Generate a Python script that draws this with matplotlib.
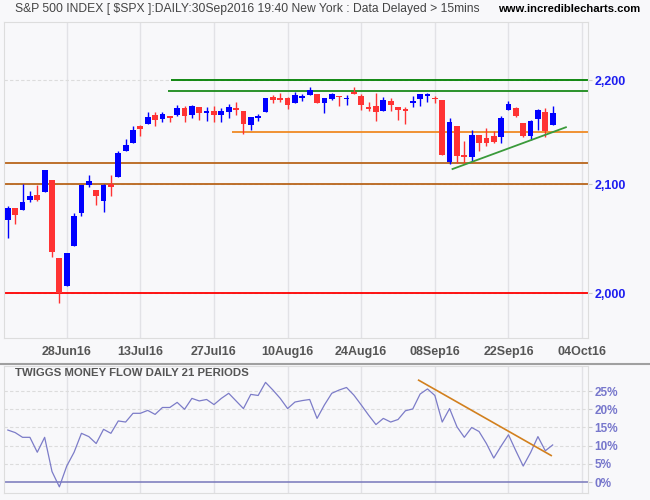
import matplotlib
matplotlib.use("Agg")
import matplotlib.pyplot as plt
from matplotlib.lines import Line2D
from matplotlib.ticker import NullLocator

# daily S&P 500 candles, 16 Jun 2016 .. 30 Sep 2016
opens = [2066.4, 2078.0, 2075.6, 2085.2, 2089.8, 2092.8, 2103.8, 2031.5, 2006.7, 2042.7,
         2073.2, 2099.3, 2095.1, 2084.4, 2100.4, 2107.0, 2131.7, 2139.5, 2155.8, 2157.9,
         2165.7, 2162.0, 2164.5, 2166.1, 2172.9, 2166.5, 2173.7, 2169.0, 2169.8, 2166.1,
         2168.8, 2173.2, 2169.9, 2156.8, 2164.2, 2168.8, 2183.8, 2182.2, 2182.8, 2178.0,
         2183.7, 2186.1, 2186.2, 2177.8, 2181.9, 2184.2, 2181.6, 2187.8, 2185.1, 2173.3,
         2175.1, 2170.2, 2179.5, 2173.6, 2171.3, 2177.5, 2181.6, 2185.2, 2182.8, 2181.2,
         2120.9, 2155.8, 2127.9, 2125.4, 2146.5, 2144.0, 2145.9, 2144.6, 2170.9, 2173.3,
         2158.5, 2146.0, 2161.9, 2168.9, 2156.5]
highs = [2079.6, 2078.0, 2100.7, 2093.7, 2099.7, 2113.3, 2103.8, 2031.5, 2036.1, 2073.1,
         2098.9, 2108.7, 2095.1, 2100.7, 2109.1, 2131.7, 2143.2, 2155.4, 2156.5, 2169.1,
         2169.1, 2169.0, 2164.6, 2175.6, 2174.6, 2176.0, 2173.7, 2173.5, 2175.0, 2172.9,
         2177.1, 2178.3, 2170.2, 2163.8, 2167.0, 2182.9, 2185.4, 2187.7, 2183.4, 2188.5,
         2186.3, 2193.8, 2186.2, 2183.1, 2187.8, 2185.0, 2185.2, 2193.4, 2186.7, 2179.0,
         2187.9, 2183.5, 2182.3, 2173.8, 2173.6, 2184.9, 2186.6, 2187.9, 2184.9, 2181.2,
         2163.3, 2155.8, 2141.3, 2151.3, 2146.5, 2153.6, 2150.8, 2165.1, 2180.0, 2173.8,
         2158.5, 2161.1, 2172.4, 2172.7, 2175.3]
lows = [2050.4, 2063.2, 2075.6, 2083.0, 2084.4, 2092.8, 2032.6, 1991.7, 2006.7, 2042.7,
        2070.0, 2097.9, 2080.9, 2074.0, 2089.4, 2107.0, 2131.7, 2139.5, 2146.2, 2157.9,
        2155.8, 2159.1, 2159.0, 2164.9, 2159.8, 2163.2, 2161.4, 2160.2, 2159.1, 2159.7,
        2163.5, 2166.2, 2147.6, 2152.0, 2159.9, 2168.8, 2177.9, 2178.6, 2172.0, 2178.0,
        2179.4, 2186.1, 2178.1, 2168.5, 2180.5, 2175.1, 2176.0, 2186.8, 2171.3, 2169.7,
        2160.4, 2170.2, 2170.4, 2161.4, 2157.1, 2173.6, 2175.1, 2179.1, 2177.5, 2127.8,
        2119.1, 2119.9, 2119.9, 2122.4, 2131.2, 2135.9, 2139.2, 2139.6, 2170.9, 2164.0,
        2145.0, 2141.6, 2151.8, 2145.2, 2156.5]
closes = [2078.0, 2071.2, 2083.3, 2088.9, 2085.5, 2113.3, 2037.4, 2000.5, 2036.1, 2070.8,
          2098.9, 2103.0, 2088.6, 2099.7, 2097.9, 2129.9, 2137.2, 2152.1, 2152.4, 2163.8,
          2161.7, 2166.9, 2163.8, 2173.0, 2165.2, 2175.0, 2168.5, 2169.2, 2166.6, 2170.1,
          2173.6, 2170.8, 2157.0, 2163.8, 2164.3, 2182.9, 2180.9, 2181.7, 2175.5, 2185.8,
          2184.1, 2190.2, 2178.2, 2182.2, 2187.0, 2183.9, 2182.6, 2186.9, 2175.4, 2172.5,
          2169.0, 2180.4, 2176.1, 2171.0, 2170.9, 2180.0, 2186.5, 2186.2, 2181.3, 2127.8,
          2159.0, 2127.0, 2125.8, 2147.3, 2139.2, 2139.1, 2139.8, 2163.1, 2177.2, 2164.7,
          2146.1, 2159.9, 2171.4, 2151.1, 2168.3]

# twiggs money flow (21 periods), in percent
twiggs = [14.3, 13.6, 12.3, 12.3, 8.2, 12.3, 2.9, -1.3, 4.4, 8.2,
          13.4, 12.5, 10.6, 14.5, 13.4, 16.8, 16.5, 18.9, 18.9, 19.7,
          18.6, 20.5, 20.5, 21.9, 20.0, 23.0, 22.3, 22.7, 21.3, 23.0,
          24.4, 22.3, 20.2, 24.1, 23.8, 27.4, 25.3, 23.0, 20.2, 22.0,
          22.4, 22.7, 17.5, 21.2, 24.4, 25.3, 26.0, 23.9, 21.2, 18.4,
          15.8, 17.5, 16.5, 17.2, 19.6, 20.1, 24.2, 25.6, 23.8, 16.5,
          20.2, 15.2, 12.3, 15.0, 13.9, 10.6, 6.6, 9.9, 13.0, 8.6,
          4.4, 8.1, 12.5, 8.6, 10.2]

date_labels = ["28Jun16", "13Jul16", "27Jul16", "10Aug16", "24Aug16", "08Sep16", "22Sep16", "04Oct16"]
date_bars = [8, 18, 28, 38, 48, 58, 68, 78]
price_ticks = [2000, 2100, 2200]
price_labels = ["2,000", "2,100", "2,200"]
pct_ticks = [0, 5, 10, 15, 20, 25]
pct_labels = ["0%", "5%", "10%", "15%", "20%", "25%"]

# horizontal support / resistance levels and the bar where each one starts
level_values = [2200, 2190, 2150, 2120, 2100, 2000]
level_starts = [22.2, 21.8, 30.5, None, None, None]
level_colors = ["#008000", "#1a8a1a", "#f08a24", "#b8651b", "#b8651b", "#ff0000"]

# rising support trend line on price, falling trend line on money flow
trend_bars = [60.4, 75.8]
trend_values = [2114.4, 2154.3]
mf_trend_bars = [55.8, 73.8]
mf_trend_values = [28.0, 7.3]

BG = "#f8f8fa"
GRID = "#e2e2e6"
FONT = "Liberation Sans"


def draw_candles(ax):
    for i in range(len(opens)):
        o, h, l, c = opens[i], highs[i], lows[i], closes[i]
        color = "#0000ff" if c >= o else "#ff3333"
        ax.vlines(i, l, h, color=color, lw=1.0, zorder=3)
        body = abs(c - o)
        bottom = min(o, c)
        if body < 1.6:
            bottom = (o + c) / 2 - 0.8
            body = 1.6
        ax.bar(i, body, bottom=bottom, width=0.78, color=color, lw=0, zorder=4)


def price_panel(fig):
    ax = fig.add_axes([4 / 650, 162 / 500, 584 / 650, 316 / 500])
    ax.set_facecolor(BG)
    ax.set_yscale("log")
    ax.set_xlim(-0.52, 78.8)
    ax.set_ylim(1960.4, 2258.2)

    for b in date_bars:
        ax.axvline(b, color=GRID, lw=1.0, zorder=0)
    for p in price_ticks:
        ax.axhline(p, color="#dcdcdc", lw=0.8, ls=(0, (3, 2)), zorder=0)

    xmax = ax.get_xlim()[1]
    for value, start, color in zip(level_values, level_starts, level_colors):
        if start is None:
            ax.axhline(value, color=color, lw=1.3, zorder=2)
        else:
            ax.hlines(value, start, xmax, color=color, lw=1.3, zorder=2)

    draw_candles(ax)
    ax.plot(trend_bars, trend_values, color="#3a9a3a", lw=1.3, zorder=5)

    ax.yaxis.tick_right()
    ax.yaxis.set_minor_locator(NullLocator())
    ax.set_yticks(price_ticks)
    ax.set_yticklabels(price_labels)
    ax.tick_params(axis="y", length=3, color="#cccccc", pad=1.5, labelcolor="#1e1ef0",
                   labelsize=9)
    for t in ax.get_yticklabels():
        t.set_fontweight("bold")
        t.set_family(FONT)

    ax.set_xticks(date_bars)
    ax.set_xticklabels(date_labels)
    ax.tick_params(axis="x", length=0, pad=6, labelcolor="#555555", labelsize=9)
    for t in ax.get_xticklabels():
        t.set_fontweight("bold")
        t.set_family(FONT)

    for s in ax.spines.values():
        s.set_color("#dddddd")
        s.set_linewidth(0.8)
    return ax


def money_flow_panel(fig):
    ax = fig.add_axes([4 / 650, 7 / 500, 584 / 650, 127 / 500])
    ax.set_facecolor(BG)
    ax.set_xlim(-0.52, 78.8)
    ax.set_ylim(-3.0, 31.9)

    for b in date_bars:
        ax.axvline(b, color=GRID, lw=1.0, zorder=0)
    for p in pct_ticks[1:]:
        ax.axhline(p, color="#dcdcdc", lw=0.8, ls=(0, (3, 2)), zorder=0)
    ax.axhline(0, color="#7777bb", lw=1.1, zorder=1)

    ax.plot(range(len(twiggs)), twiggs, color="#7c7cc8", lw=0.9, zorder=3)
    ax.plot(mf_trend_bars, mf_trend_values, color="#d2801e", lw=1.2, zorder=4)

    ax.set_xticks([])
    ax.yaxis.tick_right()
    ax.set_yticks(pct_ticks)
    ax.set_yticklabels(pct_labels)
    ax.tick_params(axis="y", length=3, color="#cccccc", pad=1.5, labelcolor="#7777cc",
                   labelsize=8.5)
    for t in ax.get_yticklabels():
        t.set_fontweight("bold")
        t.set_family(FONT)

    for s in ax.spines.values():
        s.set_color("#dddddd")
        s.set_linewidth(0.8)
    return ax


def main():
    fig = plt.figure(figsize=(6.5, 5), dpi=100, facecolor=BG)
    price_panel(fig)
    money_flow_panel(fig)

    fig.text(15 / 650, 1 - 9 / 500,
             "S&P 500 INDEX [ $SPX ]:DAILY:30Sep2016 19:40 New York : Data Delayed > 15mins",
             ha="left", va="center", fontsize=8.7, color="#444444", family=FONT)
    fig.text(640 / 650, 1 - 9 / 500, "www.incrediblecharts.com", ha="right", va="center",
             fontsize=8.1, color="#000000", fontweight="bold", family=FONT)
    fig.text(15 / 650, 1 - 373 / 500, "TWIGGS MONEY FLOW DAILY 21 PERIODS", ha="left",
             va="center", fontsize=8.2, color="#555555", fontweight="bold", family=FONT)

    fig.add_artist(Line2D([0, 1], [1 - 364 / 500, 1 - 364 / 500], color="#a0a0a0", lw=1.5))

    fig.savefig("out.png", dpi=100, facecolor=BG)


if __name__ == '__main__':
    main()
